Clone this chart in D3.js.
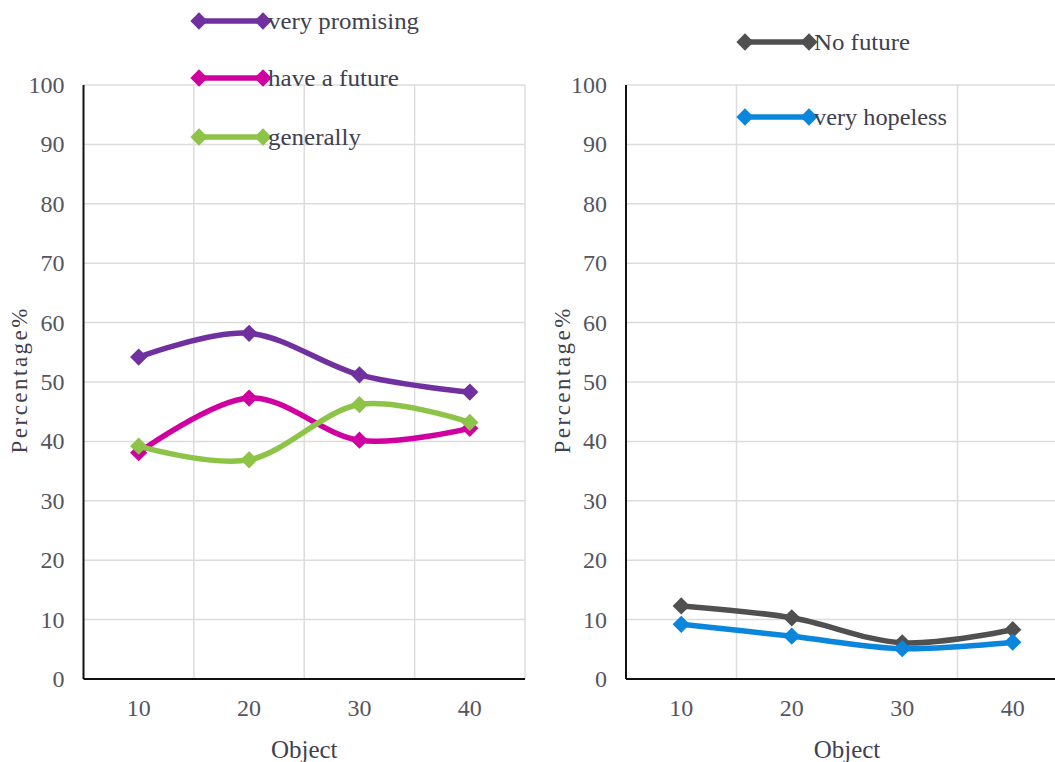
<!DOCTYPE html>
<html><head><meta charset="utf-8">
<script src="https://cdn.jsdelivr.net/npm/d3@7"></script>
</head>
<body style="margin:0">
<svg id="chart" width="1055" height="762"></svg>
<script>
const categories = ["10", "20", "30", "40"];
const yTicks = [0, 10, 20, 30, 40, 50, 60, 70, 80, 90, 100];

const veryPromising = [54.2, 58.2, 51.2, 48.3];
const haveAFuture   = [38.1, 47.3, 40.2, 42.2];
const generally     = [39.2, 36.9, 46.2, 43.2];

const noFuture      = [12.3, 10.3, 6.1, 8.3];
const veryHopeless  = [9.2, 7.2, 5.1, 6.2];

const leftSeries = [
  {name: "very promising", values: veryPromising, color: "#7030A0"},
  {name: "have a future",  values: haveAFuture,   color: "#D000A0"},
  {name: "generally",      values: generally,     color: "#8DC447"}
];
const rightSeries = [
  {name: "No future",     values: noFuture,     color: "#505050"},
  {name: "very hopeless", values: veryHopeless, color: "#0A86DC"}
];

const svg = d3.select("#chart");
const y = d3.scaleLinear().domain([0, 100]).range([679, 85]);
const diamond = d3.symbol().type(d3.symbolDiamond2).size(190);

function txt(sel) {
  return sel.style("font-family", () => `"Liberation Serif"`);
}

function panel(cfg) {
  const x = d3.scaleBand().domain(categories).range([cfg.x0, cfg.x1]);
  const bw = x.bandwidth();
  svg.selectAll(null).data(yTicks.filter(d => d > 0)).enter().append("line")
    .attr("x1", cfg.x0).attr("x2", cfg.x1)
    .attr("y1", d => y(d)).attr("y2", d => y(d))
    .attr("stroke", "#dcdcdc").attr("stroke-width", 1.5);
  svg.selectAll(null).data(cfg.vgrid).enter().append("line")
    .attr("x1", i => cfg.x0 + i * bw).attr("x2", i => cfg.x0 + i * bw)
    .attr("y1", y(100)).attr("y2", y(0))
    .attr("stroke", "#dcdcdc").attr("stroke-width", 1.5);
  svg.append("line").attr("x1", cfg.x0).attr("x2", cfg.x0).attr("y1", y(100)).attr("y2", y(0))
    .attr("stroke", "#111").attr("stroke-width", 2);
  svg.append("line").attr("x1", cfg.x0).attr("x2", cfg.x1).attr("y1", y(0)).attr("y2", y(0))
    .attr("stroke", "#111").attr("stroke-width", 2);
  txt(svg.selectAll(null).data(yTicks).enter().append("text")
    .attr("x", cfg.x0 - 19).attr("y", d => y(d) + 8)
    .attr("text-anchor", "end").attr("font-size", 24).attr("fill", "#55555f"))
    .text(d => d);
  txt(svg.selectAll(null).data(categories).enter().append("text")
    .attr("x", d => x(d) + bw / 2).attr("y", 716)
    .attr("text-anchor", "middle").attr("font-size", 24).attr("fill", "#55555f"))
    .text(d => d);
  txt(svg.append("text").attr("transform", `translate(${cfg.ytitleX},381) rotate(-90)`)
    .attr("text-anchor", "middle").attr("font-size", 23).attr("fill", "#404050")
    .attr("textLength", 145).attr("lengthAdjust", "spacing"))
    .text("Percentage%");
  txt(svg.append("text").attr("x", (cfg.x0 + cfg.x1) / 2).attr("y", 758)
    .attr("text-anchor", "middle").attr("font-size", 25).attr("fill", "#404050"))
    .text("Object");
  const line = d3.line().curve(d3.curveCatmullRom.alpha(0))
    .x((d, i) => x(categories[i]) + bw / 2).y(d => y(d));
  cfg.series.forEach(s => {
    svg.append("path").attr("d", line(s.values)).attr("fill", "none")
      .attr("stroke", s.color).attr("stroke-width", 5.5).attr("stroke-linejoin", "round");
    svg.selectAll(null).data(s.values).enter().append("path")
      .attr("d", diamond)
      .attr("transform", (d, i) => `translate(${x(categories[i]) + bw / 2},${y(d)})`)
      .attr("fill", s.color);
  });
  cfg.series.forEach((s, i) => {
    const ly = cfg.legendY[i];
    const lx = cfg.legendX;
    svg.append("line").attr("x1", lx).attr("x2", lx + 64).attr("y1", ly).attr("y2", ly)
      .attr("stroke", s.color).attr("stroke-width", 5.5);
    [lx, lx + 64].forEach(px => svg.append("path").attr("d", diamond)
      .attr("transform", `translate(${px},${ly})`).attr("fill", s.color));
    txt(svg.append("text").attr("x", lx + 69).attr("y", ly + 8)
      .attr("font-size", 24).attr("fill", "#404050")
      .attr("textLength", cfg.legendLen[i]).attr("lengthAdjust", "spacingAndGlyphs"))
      .text(s.name);
  });
}

panel({x0: 83.5, x1: 525, vgrid: [1, 2, 3, 4], series: leftSeries,
       ytitleX: 27, legendX: 199, legendY: [21, 78, 137], legendLen: [151, 131, 93]});
panel({x0: 626, x1: 1068, vgrid: [1, 3], series: rightSeries,
       ytitleX: 570, legendX: 745, legendY: [42, 117], legendLen: [96, 133]});
</script>
</body></html>
